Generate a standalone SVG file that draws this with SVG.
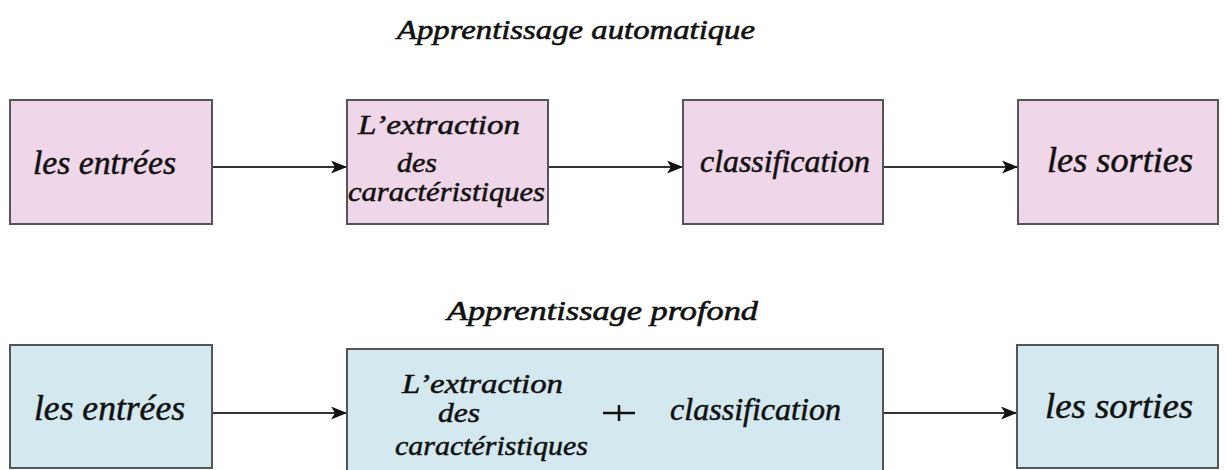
<svg xmlns="http://www.w3.org/2000/svg" width="1226" height="470" viewBox="0 0 1226 470">
<style>
.pink{fill:#efd6e8;stroke:#555;stroke-width:2}
.blue{fill:#d4e9ef;stroke:#555;stroke-width:2}
.t{font-family:"Liberation Serif",serif;font-style:italic;fill:#111;stroke:#111;stroke-width:0.5}
.title{font-family:"Liberation Serif",serif;font-style:italic;fill:#111;stroke:#111;stroke-width:0.6;font-size:28px}
.conn{stroke:#333;stroke-width:2;fill:none;marker-end:url(#ah)}
</style>
<defs>
<marker id="ah" markerWidth="17" markerHeight="13" refX="16" refY="6.5" orient="auto" markerUnits="userSpaceOnUse">
<path d="M0,0 L16,6.5 L0,13 L4,6.5 Z" fill="#111"/>
</marker>
</defs>
<rect width="1226" height="470" fill="#fff"/>
<text class="title" x="397" y="39" textLength="358" lengthAdjust="spacingAndGlyphs">Apprentissage automatique</text>
<text class="title" x="447" y="320" textLength="311" lengthAdjust="spacingAndGlyphs">Apprentissage profond</text>
<g id="connectors">
<line class="conn" x1="212" y1="167" x2="347" y2="167"/>
<line class="conn" x1="548" y1="167" x2="683" y2="167"/>
<line class="conn" x1="883" y1="167" x2="1018" y2="167"/>
<line class="conn" x1="212" y1="413" x2="347" y2="413"/>
<line class="conn" x1="883" y1="413" x2="1017" y2="413"/>
</g>
<g id="ml-inputs">
<rect class="pink" x="10" y="100" width="202" height="124"/>
<text class="t" x="33" y="174" font-size="34" textLength="143" lengthAdjust="spacingAndGlyphs">les entrées</text>
</g>
<g id="ml-extraction">
<rect class="pink" x="347" y="100" width="201" height="124"/>
<text class="t" x="358" y="134" font-size="28" textLength="162" lengthAdjust="spacingAndGlyphs">L’extraction</text>
<text class="t" x="397" y="172" font-size="28" textLength="40" lengthAdjust="spacingAndGlyphs">des</text>
<text class="t" x="348" y="201" font-size="28" textLength="197" lengthAdjust="spacingAndGlyphs">caractéristiques</text>
</g>
<g id="ml-classification">
<rect class="pink" x="683" y="100" width="200" height="124"/>
<text class="t" x="700" y="172" font-size="32" textLength="170" lengthAdjust="spacingAndGlyphs">classification</text>
</g>
<g id="ml-outputs">
<rect class="pink" x="1018" y="100" width="200" height="124"/>
<text class="t" x="1047" y="172" font-size="35" textLength="146" lengthAdjust="spacingAndGlyphs">les sorties</text>
</g>
<g id="dl-inputs">
<rect class="blue" x="10" y="345" width="202" height="123"/>
<text class="t" x="34" y="420" font-size="35" textLength="151" lengthAdjust="spacingAndGlyphs">les entrées</text>
</g>
<g id="dl-combined">
<rect class="blue" x="347" y="349" width="536" height="125"/>
<text class="t" x="402" y="393" font-size="28" textLength="161" lengthAdjust="spacingAndGlyphs">L’extraction</text>
<text class="t" x="438" y="422" font-size="28" textLength="42" lengthAdjust="spacingAndGlyphs">des</text>
<text class="t" x="395" y="455" font-size="28" textLength="193" lengthAdjust="spacingAndGlyphs">caractéristiques</text>
<path d="M603,413 H635 M619,405 V421" stroke="#111" stroke-width="2.5" fill="none"/>
<text class="t" x="670" y="420" font-size="31" textLength="171" lengthAdjust="spacingAndGlyphs">classification</text>
</g>
<g id="dl-outputs">
<rect class="blue" x="1017" y="345" width="201" height="123"/>
<text class="t" x="1045" y="418" font-size="35" textLength="148" lengthAdjust="spacingAndGlyphs">les sorties</text>
</g>
</svg>
